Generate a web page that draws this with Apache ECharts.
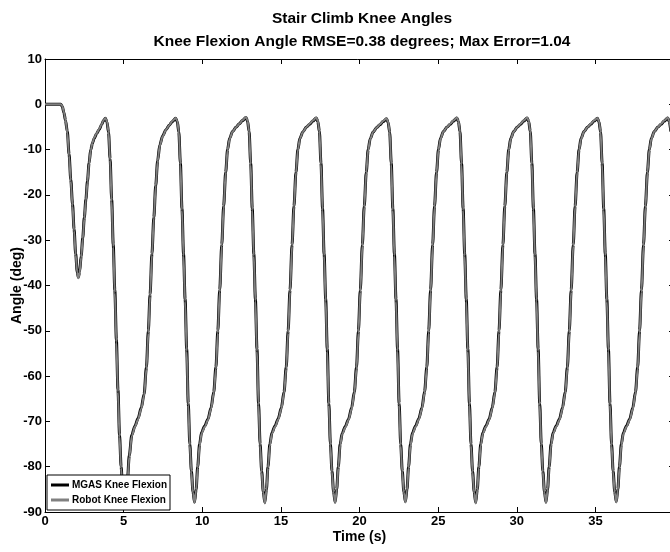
<!DOCTYPE html>
<html><head><meta charset="utf-8">
<script src="https://cdn.jsdelivr.net/npm/echarts@6/dist/echarts.min.js"></script>
<style>html,body{margin:0;padding:0;background:#fff}#c{width:670px;height:552px}</style>
</head><body><div id="c"></div>
<script>
const titleLine1 = 'Stair Climb Knee Angles';
const titleLine2 = 'Knee Flexion Angle RMSE=0.38 degrees; Max Error=1.04';
const seriesNames = ['MGAS Knee Flexion', 'Robot Knee Flexion'];
const xAxisName = 'Time (s)';
const yAxisName = 'Angle (deg)';

const time = [
  0,0.5,1.0,1.1,1.2,1.3,1.42,1.53,1.64,1.75,1.85,1.95,2.05,2.12,2.2,2.3,2.4,2.5,2.6,2.7,2.8,2.91,3.02,3.12,3.28,3.44,3.6,3.72,3.84,
  3.94,4.04,4.14,4.24,4.34,4.44,4.54,4.64,4.74,4.84,4.94,5.04,5.14,5.24,5.36,5.52,5.72,5.92,6.12,6.30,6.45,6.57,6.68,6.80,6.92,7.04,7.16,7.30,7.48,7.70,7.90,8.10,8.31,
  8.41,8.51,8.61,8.71,8.81,8.91,9.01,9.11,9.21,9.31,9.41,9.51,9.61,9.71,9.83,9.96,10.16,10.36,10.56,10.73,10.87,10.99,11.11,11.24,11.36,11.49,11.61,11.74,11.93,12.16,12.36,12.56,12.78,
  12.88,12.98,13.08,13.18,13.28,13.38,13.48,13.58,13.68,13.78,13.88,13.98,14.08,14.18,14.30,14.43,14.63,14.83,15.03,15.20,15.34,15.46,15.58,15.71,15.83,15.96,16.08,16.21,16.40,16.63,16.83,17.03,17.25,
  17.35,17.45,17.55,17.65,17.75,17.85,17.95,18.05,18.15,18.25,18.35,18.45,18.55,18.65,18.77,18.90,19.10,19.30,19.50,19.67,19.81,19.93,20.05,20.18,20.30,20.43,20.55,20.68,20.87,21.10,21.30,21.50,21.72,
  21.82,21.92,22.02,22.12,22.22,22.32,22.42,22.52,22.62,22.72,22.82,22.92,23.02,23.12,23.24,23.37,23.57,23.77,23.97,24.14,24.28,24.40,24.52,24.65,24.77,24.90,25.02,25.15,25.34,25.57,25.77,25.97,26.19,
  26.29,26.39,26.49,26.59,26.69,26.79,26.89,26.99,27.09,27.19,27.29,27.39,27.49,27.59,27.71,27.84,28.04,28.24,28.44,28.61,28.75,28.87,28.99,29.12,29.24,29.37,29.49,29.62,29.81,30.04,30.24,30.44,30.66,
  30.76,30.86,30.96,31.06,31.16,31.26,31.36,31.46,31.56,31.66,31.76,31.86,31.96,32.06,32.18,32.31,32.51,32.71,32.91,33.08,33.22,33.34,33.46,33.59,33.71,33.84,33.96,34.09,34.28,34.51,34.71,34.91,35.13,
  35.23,35.33,35.43,35.53,35.63,35.73,35.83,35.93,36.03,36.13,36.23,36.33,36.43,36.53,36.65,36.78,36.98,37.18,37.38,37.55,37.69,37.81,37.93,38.06,38.18,38.31,38.43,38.56,38.75,38.98,39.18,39.38,39.60,
  39.70,39.80
];

const mgasAngle = [
  0,0,0,-0.5,-1.8,-3.5,-6,-11,-16.6,-22,-27.6,-33,-37,-38.2,-37,-33.5,-29.5,-25,-21,-17,-13,-10,-8.6,-7.6,-6.5,-5.6,-4.5,-3.6,-3.1,
  -3.9,-6.2,-12,-21,-31,-41,-52,-63,-73,-80,-85,-87.6,-86.5,-83,-77.5,-73,-71,-69.3,-67,-64,-58,-50,-42,-33,-25,-18,-12.5,-9,-7,-5.6,-4.6,-3.8,-3.1,
  -3.8,-6.1,-13,-23,-33,-43,-54,-66,-75,-81,-85.5,-87.8,-85,-80,-75,-72.4,-71,-69.5,-67,-63.5,-58,-50,-41,-31,-22.5,-15,-10,-7.5,-6.0,-5.0,-4.3,-3.6,-2.9,
  -3.7,-6.0,-13,-23,-33,-43,-54,-66,-75,-81,-85.5,-87.9,-85,-80,-75,-72.5,-71,-69.4,-67,-63.5,-58,-50,-41,-31,-22.5,-15,-10,-7.5,-6.1,-5.0,-4.4,-3.7,-3.0,
  -3.8,-6.0,-13,-23,-33,-43,-54,-66,-75,-81,-85.5,-87.8,-85,-80,-75,-72.6,-71.1,-69.5,-67,-63.5,-58,-50,-41,-31,-22.5,-15,-10,-7.6,-6.1,-5.1,-4.5,-3.8,-3.2,
  -4.0,-6.2,-13,-23,-33,-43,-54,-66,-75,-81,-85.5,-87.7,-85,-80,-75,-72.5,-71,-69.4,-67,-63.4,-58,-50,-41,-31,-22.5,-15,-10,-7.5,-6.0,-5.0,-4.4,-3.7,-3.0,
  -3.8,-6.0,-13,-23,-33,-43,-54,-66,-75,-81,-85.5,-87.9,-85,-80,-75,-72.5,-71,-69.5,-67,-63.5,-58,-50,-41,-31,-22.5,-15,-10,-7.5,-6.0,-5.0,-4.4,-3.7,-3.0,
  -3.8,-6.0,-13,-23,-33,-43,-54,-66,-75,-81,-85.5,-87.8,-85,-80,-75,-72.5,-71,-69.5,-67,-63.5,-58,-50,-41,-31,-22.5,-15,-10,-7.5,-6.0,-5.0,-4.4,-3.7,-3.1,
  -3.9,-6.1,-13,-23,-33,-43,-54,-66,-75,-81,-85.5,-87.7,-85,-80,-75,-72.5,-71,-69.5,-67,-63.5,-58,-50,-41,-31,-22.5,-15,-10,-7.5,-6.0,-5.0,-4.4,-3.7,-3.0,
  -3.8,-6.0
];

const robotAngle = [
  0,0,0,-0.4,-1.7,-3.4,-6.2,-11.3,-16.9,-22.4,-27.9,-33.2,-37.1,-38.4,-37.2,-33.8,-29.7,-25.2,-21.2,-17.2,-13.1,-10.1,-8.5,-7.5,-6.4,-5.5,-4.4,-3.5,-3.0,
  -3.8,-6.0,-12.3,-21.4,-31.5,-41.6,-52.6,-63.5,-73.4,-80.3,-85.3,-87.9,-86.7,-83.3,-77.8,-73.2,-71.2,-69.5,-67.2,-64.3,-58.4,-50.5,-42.4,-33.3,-25.2,-18.1,-12.6,-9.1,-7.1,-5.6,-4.6,-3.7,-3.0,
  -3.7,-6.0,-13.3,-23.4,-33.5,-43.5,-54.5,-66.4,-75.3,-81.2,-85.7,-88.0,-85.2,-80.3,-75.3,-72.6,-71.2,-69.7,-67.2,-63.8,-58.4,-50.5,-41.4,-31.3,-22.7,-15.1,-10.1,-7.6,-6.0,-5.0,-4.3,-3.5,-2.8,
  -3.6,-5.9,-13.3,-23.4,-33.5,-43.5,-54.5,-66.4,-75.3,-81.2,-85.7,-88.1,-85.2,-80.3,-75.3,-72.7,-71.2,-69.6,-67.2,-63.8,-58.4,-50.5,-41.4,-31.3,-22.7,-15.1,-10.1,-7.6,-6.1,-5.0,-4.3,-3.6,-2.9,
  -3.7,-5.9,-13.3,-23.4,-33.5,-43.5,-54.5,-66.4,-75.3,-81.2,-85.7,-88.0,-85.2,-80.3,-75.3,-72.8,-71.3,-69.7,-67.2,-63.8,-58.4,-50.5,-41.4,-31.3,-22.7,-15.1,-10.1,-7.7,-6.1,-5.1,-4.4,-3.7,-3.1,
  -3.9,-6.1,-13.3,-23.4,-33.5,-43.5,-54.5,-66.4,-75.3,-81.2,-85.7,-87.9,-85.2,-80.3,-75.3,-72.7,-71.2,-69.6,-67.2,-63.7,-58.4,-50.5,-41.4,-31.3,-22.7,-15.1,-10.1,-7.6,-6.0,-5.0,-4.3,-3.6,-2.9,
  -3.7,-5.9,-13.3,-23.4,-33.5,-43.5,-54.5,-66.4,-75.3,-81.2,-85.7,-88.1,-85.2,-80.3,-75.3,-72.7,-71.2,-69.7,-67.2,-63.8,-58.4,-50.5,-41.4,-31.3,-22.7,-15.1,-10.1,-7.6,-6.0,-5.0,-4.3,-3.6,-2.9,
  -3.7,-5.9,-13.3,-23.4,-33.5,-43.5,-54.5,-66.4,-75.3,-81.2,-85.7,-88.0,-85.2,-80.3,-75.3,-72.7,-71.2,-69.7,-67.2,-63.8,-58.4,-50.5,-41.4,-31.3,-22.7,-15.1,-10.1,-7.6,-6.0,-5.0,-4.3,-3.6,-3.0,
  -3.8,-6.0,-13.3,-23.4,-33.5,-43.5,-54.5,-66.4,-75.3,-81.2,-85.7,-87.9,-85.2,-80.3,-75.3,-72.7,-71.2,-69.7,-67.2,-63.8,-58.4,-50.5,-41.4,-31.3,-22.7,-15.1,-10.1,-7.6,-6.0,-5.0,-4.3,-3.6,-2.9,
  -3.7,-5.9
];

const xMin = 0, xMax = 40, xInterval = 5;
const yMin = -90, yMax = 10, yInterval = 10;

const font = 'Liberation Sans';
const chart = echarts.init(document.getElementById('c'), null, {renderer: 'canvas'});
const tickStyle = {show: true, inside: true, length: 5, lineStyle: {color: '#000', width: 1}};
const lineStyleAxis = {show: true, onZero: false, lineStyle: {color: '#000', width: 1}};
const labelStyle = {color: '#000', fontFamily: font, fontWeight: 'bold', fontSize: 13};
const nameStyle = {color: '#000', fontFamily: font, fontWeight: 'bold', fontSize: 14};

chart.setOption({
  animation: false,
  backgroundColor: '#fff',
  title: [
    {text: titleLine1, left: 357, top: 6, textAlign: 'center',
     textStyle: {fontFamily: font, fontWeight: 'bold', fontSize: 15.5, color: '#000'}},
    {text: titleLine2, left: 357, top: 29, textAlign: 'center',
     textStyle: {fontFamily: font, fontWeight: 'bold', fontSize: 15.5, color: '#000'}}
  ],
  grid: {left: 45, right: -4, top: 59, bottom: 40, containLabel: false, outerBoundsMode: 'none'},
  legend: {
    orient: 'vertical', left: 47, top: 475,
    backgroundColor: '#fff', borderColor: '#000', borderWidth: 1, borderRadius: 0,
    padding: [5, 3, 5, 4], itemGap: 5, itemWidth: 18, itemHeight: 3, icon: 'rect',
    textStyle: {fontFamily: font, fontSize: 10, fontWeight: 'bold', color: '#000', padding: [0, 0, 0, -2]},
    data: seriesNames
  },
  xAxis: [
    {type: 'value', position: 'bottom', min: xMin, max: xMax, interval: xInterval,
     axisLine: lineStyleAxis, axisTick: tickStyle, splitLine: {show: false},
     axisLabel: Object.assign({margin: 3, showMaxLabel: false}, labelStyle),
     name: xAxisName, nameLocation: 'middle', nameGap: 18, nameMoveOverlap: false, nameTextStyle: nameStyle},
    {type: 'value', position: 'top', min: xMin, max: xMax, interval: xInterval,
     axisLine: lineStyleAxis, axisTick: tickStyle, splitLine: {show: false}, axisLabel: {show: false}}
  ],
  yAxis: [
    {type: 'value', position: 'left', min: yMin, max: yMax, interval: yInterval,
     axisLine: lineStyleAxis, axisTick: tickStyle, splitLine: {show: false},
     axisLabel: Object.assign({margin: 3}, labelStyle),
     name: yAxisName, nameLocation: 'middle', nameGap: 21, nameRotate: 90, nameMoveOverlap: false, nameTextStyle: nameStyle},
    {type: 'value', position: 'right', min: yMin, max: yMax, interval: yInterval,
     axisLine: lineStyleAxis, axisTick: tickStyle, splitLine: {show: false}, axisLabel: {show: false}}
  ],
  series: [
    {name: seriesNames[0], type: 'line', xAxisIndex: 0, yAxisIndex: 0,
     data: time.map((t, i) => [t, mgasAngle[i]]),
     showSymbol: false, smooth: 0.3, smoothMonotone: 'x',
     lineStyle: {color: '#000', width: 3}, itemStyle: {color: '#000'}, z: 2},
    {name: seriesNames[1], type: 'line', xAxisIndex: 0, yAxisIndex: 0,
     data: time.map((t, i) => [t, robotAngle[i]]),
     showSymbol: false, smooth: 0.3, smoothMonotone: 'x',
     lineStyle: {color: '#808080', width: 2}, itemStyle: {color: '#808080'}, z: 3}
  ]
});
</script></body></html>
